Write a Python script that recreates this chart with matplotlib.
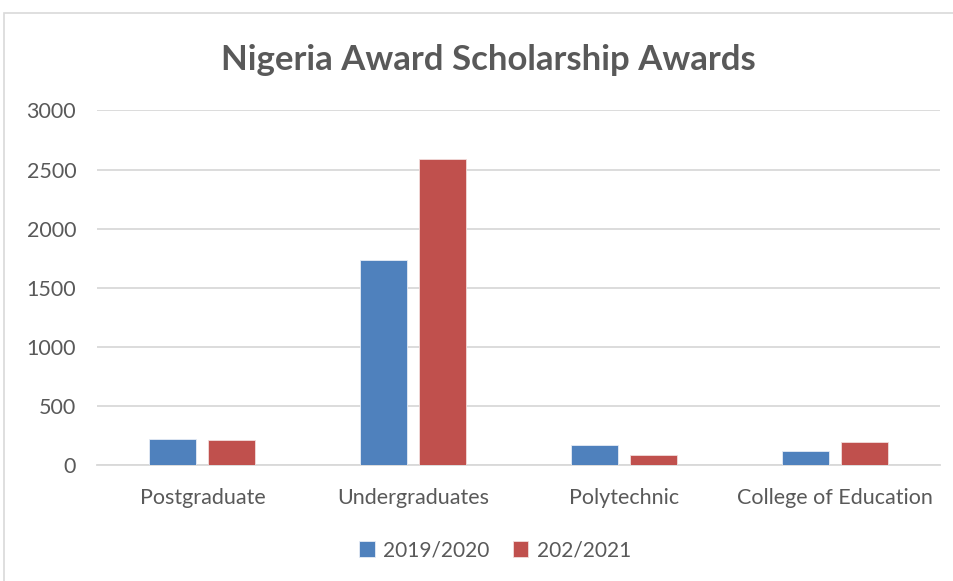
import numpy as np
import matplotlib
matplotlib.use("Agg")
import matplotlib.pyplot as plt
from matplotlib.patches import Rectangle

# Scholarship award counts per level of study
categories = ["Postgraduate", "Undergraduates", "Polytechnic", "College of Education"]
awards_2019 = [228, 1738, 172, 125]
awards_2021 = [213, 2588, 92, 196]
series_labels = ["2019/2020", "202/2021"]

BLUE = "#4F81BD"
RED = "#C0504D"
GRID = "#D9D9D9"
TEXT = "#595959"

plt.rcParams["font.family"] = ["Lato", "DejaVu Sans"]

fig = plt.figure(figsize=(9.54, 5.81), dpi=100)
ax = fig.add_axes([0.1017, 0.1988, 0.8836, 0.6112])

# outer chart frame
fig.patches.append(Rectangle((4 / 954, -0.02), 1.0, 1 - 13 / 581 + 0.02,
                             transform=fig.transFigure, fill=False,
                             edgecolor=GRID, linewidth=1.2))

x = np.arange(len(categories))
width = 0.223
offset = 0.14
ax.bar(x - offset, awards_2019, width, color=BLUE, edgecolor="#E6ECF5",
       linewidth=0.6, label=series_labels[0], zorder=3)
ax.bar(x + offset, awards_2021, width, color=RED, edgecolor="#F2DCDB",
       linewidth=0.6, label=series_labels[1], zorder=3)

ax.set_xlim(-0.5, len(categories) - 0.5)
ax.set_ylim(0, 3000)
ax.set_yticks(np.arange(0, 3001, 500))
ax.set_xticks(x)
ax.set_xticklabels(categories)
ax.yaxis.grid(True, color=GRID, linewidth=1.3, zorder=0)
ax.set_axisbelow(True)
for side in ["top", "right", "left"]:
    ax.spines[side].set_visible(False)
ax.spines["bottom"].set_color(GRID)
ax.spines["bottom"].set_linewidth(1.3)
ax.tick_params(axis="both", length=0, labelsize=15.5, labelcolor=TEXT)
ax.tick_params(axis="y", pad=15)
ax.tick_params(axis="x", pad=16)

fig.text(0.512, 0.896, "Nigeria Award Scholarship Awards", ha="center",
         va="center", fontsize=25, fontweight="bold", color=TEXT)

fig.legend(loc="center", bbox_to_anchor=(0.519, 0.053), ncol=2, frameon=False,
           fontsize=15, labelcolor=TEXT, handlelength=0.75, handleheight=0.75,
           handletextpad=0.4, columnspacing=1.1)

fig.savefig("out.png", dpi=100)
